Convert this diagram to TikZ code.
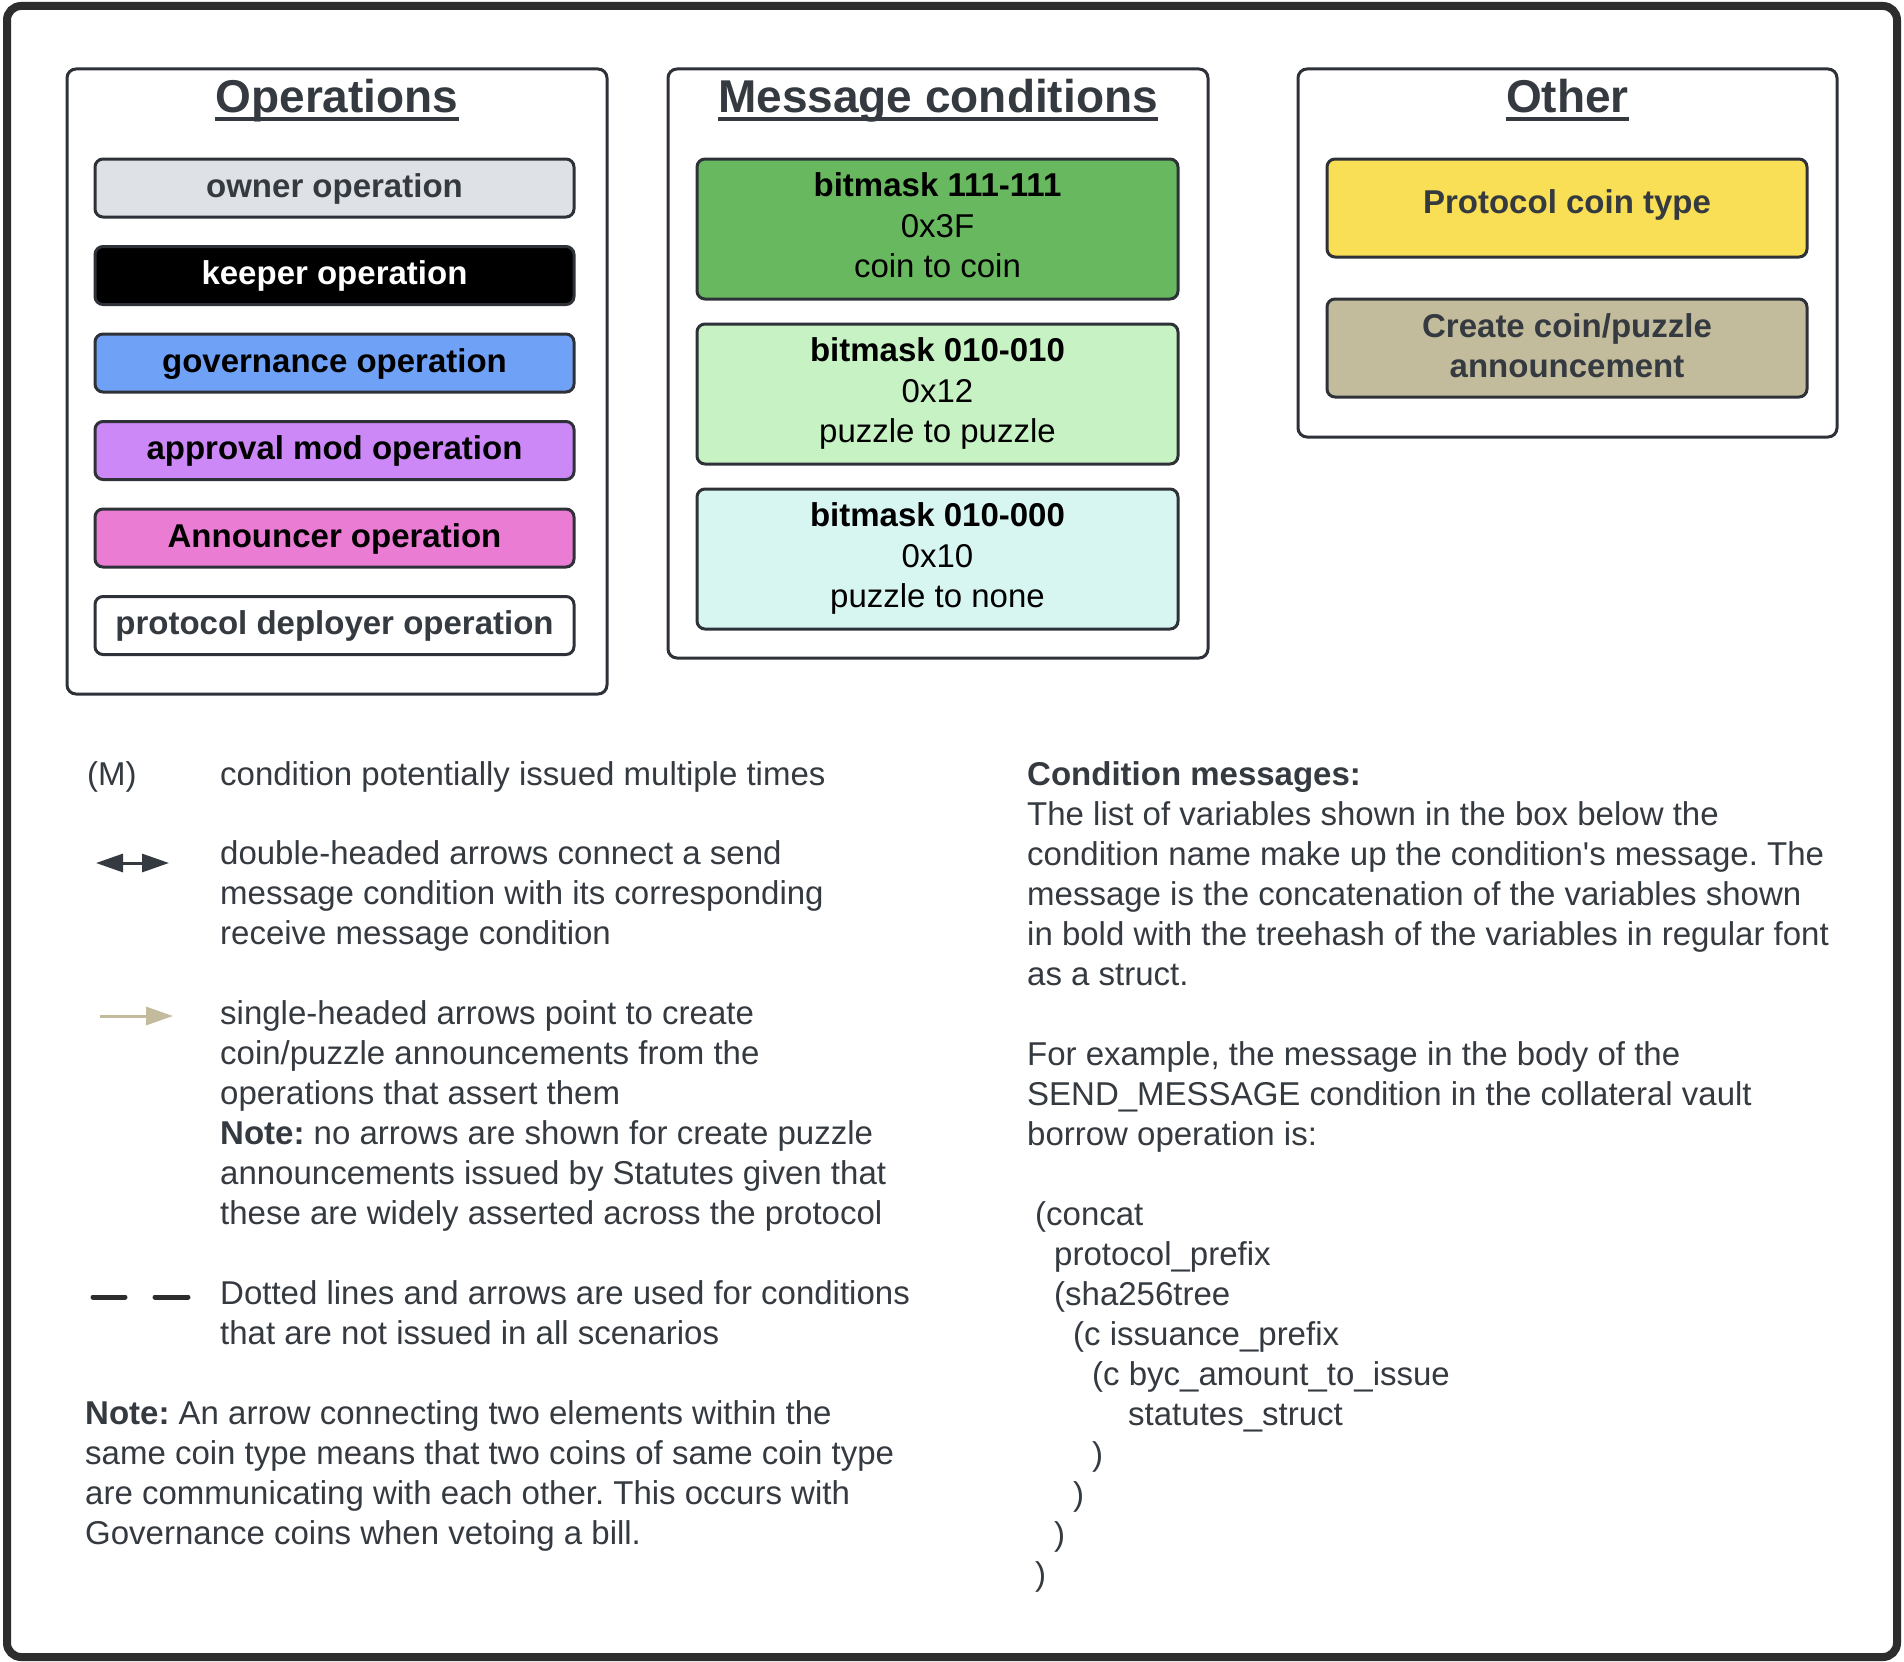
\documentclass[tikz,border=0pt]{standalone}
\usepackage{fontspec}
\setmainfont{Liberation Sans}
\newfontfamily\plainsans{Liberation Sans}
\usetikzlibrary{arrows.meta}
\definecolor{txt}{HTML}{343A40}
\definecolor{edge}{HTML}{2E3238}
\definecolor{frm}{HTML}{2D2D2D}
\definecolor{cgray}{HTML}{DEE2E6}
\definecolor{cblue}{HTML}{6FA2F6}
\definecolor{cpurp}{HTML}{CB88F6}
\definecolor{cpink}{HTML}{EA7CD4}
\definecolor{cgreen}{HTML}{68B85F}
\definecolor{clgreen}{HTML}{C7F2C4}
\definecolor{ccyan}{HTML}{D8F6F1}
\definecolor{cyell}{HTML}{F9DF55}
\definecolor{ctan}{HTML}{C3BC9C}
\frenchspacing
\begin{document}
\begin{tikzpicture}[x=1pt,y=-1pt,
  frame/.style={draw=frm,line width=8,rounded corners=14},
  group/.style={draw=edge,line width=3,rounded corners=9,fill=white,inner sep=0,outer sep=0},
  cbox/.style={draw=edge,line width=3,rounded corners=8,inner sep=0,outer sep=0},
  ttl/.style={font=\fontsize{46}{55}\selectfont\bfseries,text=txt,inner sep=0,anchor=base},
  uline/.style={draw=txt,line width=4},
  btxt/.style={font=\fontsize{33}{40}\selectfont\bfseries,inner sep=0,anchor=base},
  rtxt/.style={font=\fontsize{33}{40}\selectfont,inner sep=0,anchor=base},
  ltxt/.style={font=\fontsize{33}{40}\selectfont\frenchspacing,text=txt,inner sep=0,anchor=base west},
  darr/.style={draw=txt,line width=3,{Triangle[length=27,width=18]}-{Triangle[length=27,width=18]}},
  sarr/.style={draw=ctan,line width=3,-{Triangle[length=27,width=18]}},
  dsh/.style={draw=frm,line width=5,line cap=round}
]
\fill[white] (0,0) rectangle (1904,1662);
\useasboundingbox (0,0) rectangle (1904,1662);
\draw[frame] (7,6) rectangle (1897,1657);

% groups
\node[group,minimum width=540,minimum height=625] (ops) at (337,381.5) {};
\node[group,minimum width=540,minimum height=589] (msg) at (938,363.5) {};
\node[group,minimum width=539,minimum height=368] (oth) at (1567.5,253) {};

% titles
\node[ttl] (opsT) at (337,113) {Operations};
\draw[uline] ([yshift=-6]opsT.base west) -- ([yshift=-6]opsT.base east);
\node[ttl] (msgT) at (938,113) {Message conditions};
\draw[uline] ([yshift=-6]msgT.base west) -- ([yshift=-6]msgT.base east);
\node[ttl] (othT) at (1567.5,113) {Other};
\draw[uline] ([yshift=-6]othT.base west) -- ([yshift=-6]othT.base east);

% operations
\node[cbox,fill=cgray,minimum width=479,minimum height=58] (own) at (334.5,188) {};
\node[btxt,text=txt] (ownT) at (334.5,197) {owner operation};
\node[cbox,fill=black,minimum width=479,minimum height=58] (kee) at (334.5,275.5) {};
\node[btxt,text=white] (keeT) at (334.5,284.5) {keeper operation};
\node[cbox,fill=cblue,minimum width=479,minimum height=58] (gov) at (334.5,363) {};
\node[btxt,text=black] (govT) at (334.5,372) {governance operation};
\node[cbox,fill=cpurp,minimum width=479,minimum height=58] (app) at (334.5,450.5) {};
\node[btxt,text=black] (appT) at (334.5,459.5) {approval mod operation};
\node[cbox,fill=cpink,minimum width=479,minimum height=58] (ann) at (334.5,538) {};
\node[btxt,text=black] (annT) at (334.5,547) {Announcer operation};
\node[cbox,fill=white,minimum width=479,minimum height=58] (dep) at (334.5,625.5) {};
\node[btxt,text=txt] (depT) at (334.5,634.5) {protocol deployer operation};

% message conditions
\node[cbox,fill=cgreen,minimum width=481,minimum height=140] (m1) at (937.5,229) {};
\node[btxt,text=black] (m1a) at (937.5,196) {bitmask 111-111};
\node[rtxt,text=black] (m1b) at (937.5,237) {0x3F};
\node[rtxt,text=black] (m1c) at (937.5,277) {coin to coin};
\node[cbox,fill=clgreen,minimum width=481,minimum height=140] (m2) at (937.5,394) {};
\node[btxt,text=black] (m2a) at (937.5,361) {bitmask 010-010};
\node[rtxt,text=black] (m2b) at (937.5,402) {0x12};
\node[rtxt,text=black] (m2c) at (937.5,442) {puzzle to puzzle};
\node[cbox,fill=ccyan,minimum width=481,minimum height=140] (m3) at (937.5,559) {};
\node[btxt,text=black] (m3a) at (937.5,526) {bitmask 010-000};
\node[rtxt,text=black] (m3b) at (937.5,567) {0x10};
\node[rtxt,text=black] (m3c) at (937.5,607) {puzzle to none};

% other
\node[cbox,fill=cyell,minimum width=480,minimum height=98] (pct) at (1567,208) {};
\node[btxt,text=txt] (pctT) at (1567,213) {Protocol coin type};
\node[cbox,fill=ctan,minimum width=480,minimum height=98] (cca) at (1567,348) {};
\node[btxt,text=txt] (ccaT1) at (1567,337) {Create coin/puzzle};
\node[btxt,text=txt] (ccaT2) at (1567,377) {announcement};

% legend left
\node[ltxt] (mM) at (87,785) {(M)};
\node[ltxt] (mD) at (220,785) {condition potentially issued multiple times};

\coordinate (da1) at (96,863);
\coordinate (da2) at (169,863);
\draw[darr] (da1) -- (da2);
\node[ltxt] (d1) at (220,864) {double-headed arrows connect a send};
\node[ltxt] (d2) at (220,904) {message condition with its corresponding};
\node[ltxt] (d3) at (220,944) {receive message condition};

\coordinate (sa1) at (100,1016);
\coordinate (sa2) at (173,1016);
\draw[sarr] (sa1) -- (sa2);
\node[ltxt] (s1) at (220,1024) {single-headed arrows point to create};
\node[ltxt] (s2) at (220,1064) {coin/puzzle announcements from the};
\node[ltxt] (s3) at (220,1104) {operations that assert them};
\node[ltxt] (s4) at (220,1144) {\textbf{Note:} no arrows are shown for create puzzle};
\node[ltxt] (s5) at (220,1184) {announcements issued by Statutes given that};
\node[ltxt] (s6) at (220,1224) {these are widely asserted across the protocol};

\coordinate (ds1) at (93,1297);
\coordinate (ds2) at (125,1297);
\coordinate (ds3) at (155,1297);
\coordinate (ds4) at (188,1297);
\draw[dsh] (ds1) -- (ds2);
\draw[dsh] (ds3) -- (ds4);
\node[ltxt] (o1) at (220,1304) {Dotted lines and arrows are used for conditions};
\node[ltxt] (o2) at (220,1344) {that are not issued in all scenarios};

\node[ltxt] (n1) at (85,1424) {\textbf{Note:} An arrow connecting two elements within the};
\node[ltxt] (n2) at (85,1464) {same coin type means that two coins of same coin type};
\node[ltxt] (n3) at (85,1504) {are communicating with each other. This occurs with};
\node[ltxt] (n4) at (85,1544) {Governance coins when vetoing a bill.};

% right column
\node[ltxt] (r0) at (1027,785) {\textbf{Condition messages:}};
\node[ltxt] (r1) at (1027,825) {The list of variables shown in the box below the};
\node[ltxt] (r2) at (1027,865) {condition name make up the condition{\plainsans '}s message. The};
\node[ltxt] (r3) at (1027,905) {message is the concatenation of the variables shown};
\node[ltxt] (r4) at (1027,945) {in bold with the treehash of the variables in regular font};
\node[ltxt] (r5) at (1027,985) {as a struct.};
\node[ltxt] (r6) at (1027,1065) {For example, the message in the body of the};
\node[ltxt] (r7) at (1027,1105) {SEND\_MESSAGE condition in the collateral vault};
\node[ltxt] (r8) at (1027,1145) {borrow operation is:};

\node[ltxt] (c0) at (1035,1225) {(concat};
\node[ltxt] (c1) at (1054,1265) {protocol\_prefix};
\node[ltxt] (c2) at (1054,1305) {(sha256tree};
\node[ltxt] (c3) at (1073,1345) {(c issuance\_prefix};
\node[ltxt] (c4) at (1092,1385) {(c byc\_amount\_to\_issue};
\node[ltxt] (c5) at (1128,1425) {statutes\_struct};
\node[ltxt] (c6) at (1092,1465) {)};
\node[ltxt] (c7) at (1073,1505) {)};
\node[ltxt] (c8) at (1054,1545) {)};
\node[ltxt] (c9) at (1035,1585) {)};
\end{tikzpicture}
\end{document}
